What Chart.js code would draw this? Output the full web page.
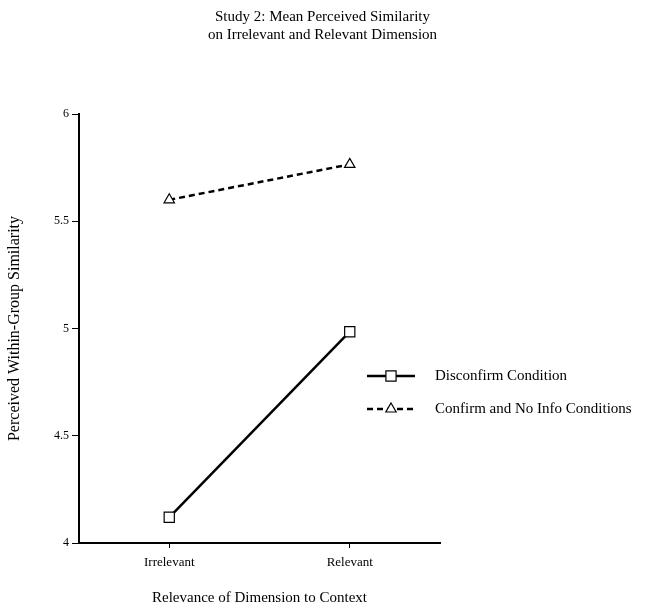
<!DOCTYPE html>
<html>
<head>
<meta charset="utf-8">
<script src="https://cdn.jsdelivr.net/npm/chart.js"></script>
<style>
  body { margin: 0; background: #fff; }
  #wrap { width: 645px; height: 609px; }
</style>
</head>
<body>
<div id="wrap"><canvas id="myChart" width="645" height="609"></canvas></div>
<script>
const categories = ['Irrelevant', 'Relevant'];
const disconfirm = [4.12, 4.985];
const confirmNoInfo = [5.60, 5.765];
const seriesNames = ['Disconfirm Condition', 'Confirm and No Info Conditions'];

Chart.defaults.font.family = "'Liberation Serif', 'Times New Roman', serif";
Chart.defaults.color = '#000';

// legend drawn on top of the plot, to the right of the lines
const sideLegend = {
  id: 'sideLegend',
  afterDraw(chart, args, opts) {
    const ctx = chart.ctx;
    ctx.save();
    chart.data.datasets.forEach((ds, i) => {
      const y = opts.y + i * opts.rowGap;
      const x0 = opts.x, x1 = opts.x + opts.lineLen;
      ctx.strokeStyle = '#000';
      ctx.lineWidth = ds.borderWidth;
      ctx.setLineDash(ds.borderDash || []);
      ctx.beginPath();
      ctx.moveTo(x0, y);
      ctx.lineTo(x1, y);
      ctx.stroke();
      ctx.setLineDash([]);
      const cx = (x0 + x1) / 2;
      ctx.lineWidth = ds.pointBorderWidth;
      ctx.fillStyle = '#fff';
      ctx.beginPath();
      if (ds.pointStyle === 'rect') {
        const s = ds.pointRadius * Math.SQRT1_2;
        ctx.rect(cx - s, y - s, 2 * s, 2 * s);
      } else {
        const r = ds.pointRadius;
        ctx.moveTo(cx, y - r);
        ctx.lineTo(cx + r * Math.sin(Math.PI * 2 / 3), y + r / 2);
        ctx.lineTo(cx - r * Math.sin(Math.PI * 2 / 3), y + r / 2);
        ctx.closePath();
      }
      ctx.fill();
      ctx.stroke();
      ctx.fillStyle = '#000';
      ctx.font = opts.font;
      ctx.textBaseline = 'middle';
      ctx.textAlign = 'left';
      ctx.fillText(ds.label, opts.textX, y);
    });
    ctx.restore();
  }
};

new Chart(document.getElementById('myChart'), {
  type: 'line',
  data: {
    labels: categories,
    datasets: [
      {
        label: seriesNames[0],
        data: disconfirm,
        borderColor: '#000',
        borderWidth: 2.5,
        pointStyle: 'rect',
        pointRadius: 7.2,
        pointBackgroundColor: '#fff',
        pointBorderColor: '#000',
        pointBorderWidth: 1.2,
        tension: 0
      },
      {
        label: seriesNames[1],
        data: confirmNoInfo,
        borderColor: '#000',
        borderWidth: 2.5,
        borderDash: [6, 4],
        pointStyle: 'triangle',
        pointRadius: 6,
        pointBackgroundColor: '#fff',
        pointBorderColor: '#000',
        pointBorderWidth: 1.2,
        tension: 0
      }
    ]
  },
  options: {
    responsive: false,
    animation: false,
    layout: { padding: 0 },
    plugins: {
      legend: { display: false },
      tooltip: { enabled: false },
      title: {
        display: true,
        text: ['Study 2: Mean Perceived Similarity', 'on Irrelevant and Relevant Dimension'],
        font: { size: 15, weight: 'normal', lineHeight: 1.2 },
        color: '#000',
        padding: { top: 8, bottom: 70 }
      },
      sideLegend: { x: 367, y: 376, rowGap: 33, lineLen: 48, textX: 435, font: "15px 'Liberation Serif', serif" }
    },
    scales: {
      x: {
        type: 'category',
        offset: true,
        grid: { display: true, drawOnChartArea: false, drawTicks: true, tickLength: 5, color: '#000', lineWidth: 1 },
        border: { display: true, color: '#000', width: 2 },
        ticks: { font: { size: 13 }, color: '#000', padding: 7, maxRotation: 0 },
        title: { display: true, text: 'Relevance of Dimension to Context', font: { size: 15 }, color: '#000', padding: { top: 0, bottom: 2 } },
        afterFit(scale) { scale.height = 66; }
      },
      y: {
        min: 4,
        max: 6,
        ticks: { stepSize: 0.5, font: { size: 12 }, color: '#000', padding: 3, callback: v => String(v) },
        grid: { display: true, drawOnChartArea: false, drawTicks: true, tickLength: 7, color: '#000', lineWidth: 1 },
        border: { display: true, color: '#000', width: 2 },
        title: { display: true, text: 'Perceived Within-Group Similarity', font: { size: 16 }, color: '#000', padding: { top: 5.5, bottom: 0 } },
        afterFit(scale) { scale.width = 79; }
      },
      spacer: {
        position: 'right',
        display: false,
        afterFit(scale) { scale.width = 205; }
      }
    }
  },
  plugins: [sideLegend]
});
</script>
</body>
</html>
